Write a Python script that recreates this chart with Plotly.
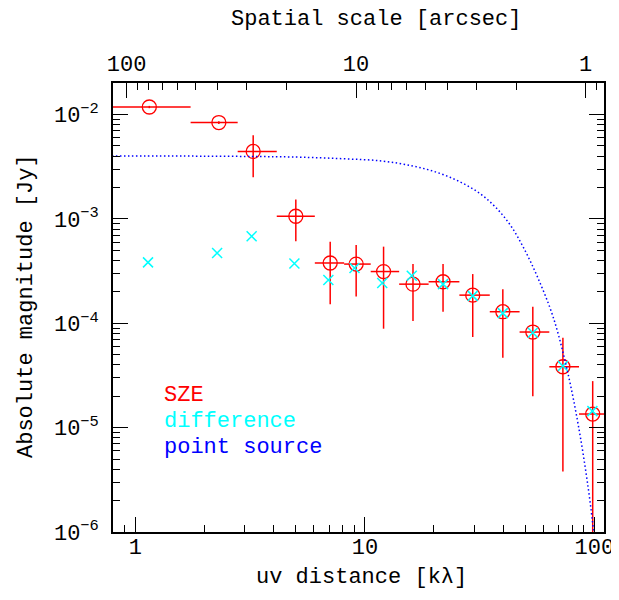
import math
import plotly.graph_objects as go

# SZE visibility amplitudes (binned)
sze_uv = [1.15, 2.31, 3.26, 5.00, 7.06, 9.16, 12.06, 16.2, 21.9, 29.5, 39.9, 53.9, 72.9, 98.3]
sze_uv_lo = [0.70, 1.74, 2.79, 4.13, 6.05, 8.12, 10.6, 14.1, 18.95, 25.8, 35.0, 47.2, 63.6, 85.7]
sze_uv_hi = [1.74, 2.79, 4.13, 6.05, 8.12, 10.6, 14.1, 18.95, 25.8, 35.0, 47.2, 63.6, 85.7, 115.0]
sze_amp = [0.0118, 0.00838, 0.00443, 0.00106, 0.000378, 0.000369, 0.000313,
           0.000237, 0.000250, 0.000186, 0.000129, 8.24e-5, 3.83e-5, 1.35e-5]
sze_amp_lo = [0.0115, 0.0081, 0.00251, 0.00061, 0.000152, 0.000180, 8.87e-5,
              0.000105, 0.000129, 7.38e-5, 4.67e-5, 2.0e-5, 3.8e-6, 1e-7]
sze_amp_hi = [0.0121, 0.0086, 0.00632, 0.00153, 0.000605, 0.000562, 0.000542,
              0.000369, 0.000369, 0.000296, 0.000212, 0.000144, 7.28e-5, 2.79e-5]

# difference (crosses)
diff_uv = [1.135, 2.27, 3.21, 4.93, 6.93, 9.01, 11.9, 16.0, 21.9, 29.5, 39.9, 53.9, 72.9, 98.0]
diff_amp = [0.000383, 0.000471, 0.000681, 0.000374, 0.000260, 0.000338, 0.000243,
            0.000285, 0.000237, 0.000183, 0.000125, 8.1e-5, 3.9e-5, 1.44e-5]

# point source model curve
ps_uv = [0.7, 2, 5, 8, 11.8, 16.2, 20.8, 25.9, 31.6, 37.4, 43.5, 49.7, 56.8,
         66.0, 75.5, 84.8, 93.8, 99.3, 101]
ps_amp = [0.00400, 0.00399, 0.00391, 0.00377, 0.00359, 0.00321, 0.00277, 0.00227,
          0.00176, 0.00127, 0.000841, 0.000504, 0.00027, 0.000116, 3.84e-5,
          1.1e-5, 2.72e-6, 1.0e-6, 7e-7]

x_ticks = [1, 10, 100]
y_ticks = [1e-6, 1e-5, 1e-4, 1e-3, 1e-2]
top_ticks = [100, 10, 1]

# arcsec <-> k-lambda conversion used for the top axis
K_ARCSEC = 91.5
X_RANGE = [-0.0976, 2.0418]  # log10 uv
Y_RANGE = [-6, -1.698]

FONT = "Liberation Mono"
FS = 22
RED = "#ff0000"
CYAN = "#00ffff"
BLUE = "#0000ff"

# the page body adds an 8px margin, so the figure is 8px smaller than the window
W, H = 611, 592
ML, MR, MT, MB = 105, 15, 75, 68
PW, PH = W - ML - MR, H - MT - MB


def px_x(x):
    # window pixel -> paper x
    return (x - 8 - ML) / PW


def px_y(y):
    # window pixel -> paper y
    return (H - MB - (y - 8)) / PH


fig = go.Figure()

fig.add_trace(go.Scatter(
    x=sze_uv, y=sze_amp, mode="markers", name="SZE",
    marker=dict(symbol="circle-open", size=14, color=RED, line=dict(width=1.3, color=RED)),
    error_x=dict(type="data", symmetric=False,
                 array=[h - u for h, u in zip(sze_uv_hi, sze_uv)],
                 arrayminus=[u - l for u, l in zip(sze_uv, sze_uv_lo)],
                 color=RED, thickness=1.5, width=0),
    error_y=dict(type="data", symmetric=False,
                 array=[h - a for h, a in zip(sze_amp_hi, sze_amp)],
                 arrayminus=[a - l for a, l in zip(sze_amp, sze_amp_lo)],
                 color=RED, thickness=1.5, width=0),
))

fig.add_trace(go.Scatter(
    x=diff_uv, y=diff_amp, mode="markers", name="difference",
    marker=dict(symbol="x-thin-open", size=10, color=CYAN, line=dict(width=1.5, color=CYAN)),
))

fig.add_trace(go.Scatter(
    x=ps_uv, y=ps_amp, mode="lines", name="point source",
    line=dict(color=BLUE, width=1.5, dash="1.5px,2.5px", shape="spline"),
))

# invisible trace so the top (arcsec) axis gets drawn
fig.add_trace(go.Scatter(x=[50], y=[1e-3], xaxis="x2", mode="markers",
                         marker=dict(opacity=0), showlegend=False, hoverinfo="skip"))

x_minor = [0.9] + list(range(2, 10)) + [k * 10 for k in range(2, 10)]
y_minor = [k * 10 ** e for e in range(-6, -1) for k in range(2, 10)]
top_minor = [0.9] + list(range(2, 10)) + [k * 10 for k in range(2, 10)]

tickfont = dict(family=FONT, size=FS, color="black")


def axis_style(minor_vals, standoff):
    return dict(showline=True, linecolor="black", linewidth=1.5,
                ticks="inside", ticklen=15, tickwidth=1, tickcolor="black",
                ticklabelstandoff=standoff,
                showgrid=False, zeroline=False, automargin=False, tickfont=tickfont,
                minor=dict(tickmode="array", tickvals=minor_vals, ticks="inside",
                           ticklen=7.5, tickwidth=1, tickcolor="black", showgrid=False))


logk = math.log10(K_ARCSEC)

fig.update_layout(
    template="none",
    width=W, height=H,
    margin=dict(l=ML, r=MR, t=MT, b=MB, autoexpand=False),
    paper_bgcolor="white", plot_bgcolor="white",
    showlegend=False,
    font=dict(family=FONT, size=FS, color="black"),
    xaxis=dict(type="log", range=X_RANGE, tickmode="array",
               tickvals=x_ticks, ticktext=[str(v) for v in x_ticks],
               **axis_style(x_minor, -6)),
    xaxis2=dict(type="log", overlaying="x", side="top", anchor="y",
                range=[logk - X_RANGE[0], logk - X_RANGE[1]], tickmode="array",
                tickvals=top_ticks, ticktext=[str(v) for v in top_ticks],
                **axis_style(top_minor, 1)),
    yaxis=dict(type="log", range=Y_RANGE, mirror="ticks", tickmode="array",
               tickvals=y_ticks,
               ticktext=["10<sup>−%d</sup>" % round(-math.log10(v)) for v in y_ticks],
               **axis_style(y_minor, 8)),
)

# axis titles
fig.add_annotation(text="Spatial scale [arcsec]", xref="paper", yref="paper",
                   x=px_x(376), y=px_y(19), xanchor="center", yanchor="middle",
                   showarrow=False, font=tickfont)
fig.add_annotation(text="uv distance [kλ]", xref="paper", yref="paper",
                   x=px_x(361), y=px_y(577), xanchor="center", yanchor="middle",
                   showarrow=False, font=tickfont)
fig.add_annotation(text="Absolute magnitude [Jy]", xref="paper", yref="paper",
                   x=px_x(26), y=px_y(306), xanchor="center", yanchor="middle",
                   textangle=-90, showarrow=False, font=tickfont)

# legend labels
for label, color, py in [("SZE", RED, 395), ("difference", CYAN, 421), ("point source", BLUE, 447)]:
    fig.add_annotation(text=label, xref="paper", yref="paper",
                       x=px_x(162), y=px_y(py), xanchor="left", yanchor="middle",
                       showarrow=False, font=dict(family=FONT, size=FS, color=color))

fig.write_html("out.html")
